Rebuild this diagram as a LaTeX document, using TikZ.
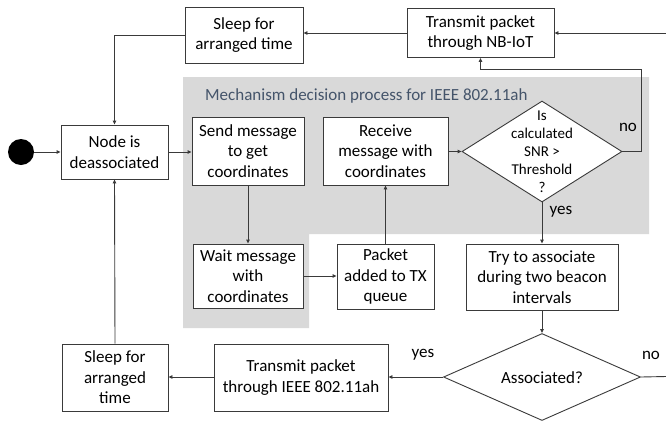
\documentclass[tikz,border=0pt]{standalone}
\usepackage{fontspec}
\setmainfont{Carlito}
\usetikzlibrary{arrows.meta,shapes.geometric}
\definecolor{lineC}{HTML}{3A3A3A}
\definecolor{grayBG}{HTML}{D9D9D9}
\definecolor{titleC}{HTML}{44546A}
\tikzset{
  box/.style={draw=lineC, line width=0.9pt, fill=white, align=center, inner sep=0pt, font=\fontsize{17}{20.5}\selectfont},
  dia/.style={draw=lineC, line width=0.9pt, fill=white, diamond, inner sep=0pt},
  lbl/.style={font=\fontsize{17}{20.5}\selectfont, align=center, inner sep=0pt},
  conn/.style={draw=lineC, line width=0.9pt, -{Triangle[length=4pt,width=3.5pt]}},
  plain/.style={draw=lineC, line width=0.9pt}
}
\begin{document}
\begin{tikzpicture}[x=1pt,y=-1pt]
\useasboundingbox (0,0) rectangle (666,424);
% gray region
\fill[grayBG] (183,77) -- (649,77) -- (649,234) -- (309,234) -- (309,328) -- (183,328) -- cycle;
\node[lbl, anchor=west, text=titleC] (title) at (205,96) {Mechanism decision process for IEEE 802.11ah};

% nodes
\node[box, minimum width=118, minimum height=56] (sleepTop) at (244,35) {Sleep for\\arranged time};
\node[box, minimum width=147, minimum height=49] (nbiot) at (480.5,33) {Transmit packet\\through NB-IoT};
\node[box, minimum width=107, minimum height=54] (deassoc) at (114.5,152) {Node is\\deassociated};
\node[box, minimum width=112, minimum height=68] (send) at (248,151) {Send message\\to get\\coordinates};
\node[box, minimum width=125, minimum height=68] (recv) at (385.5,151) {Receive\\message with\\coordinates};
\node[dia, minimum width=160, minimum height=101] (snr) at (542,151.5) {};
\node[lbl, font=\fontsize{15}{18}\selectfont] (snrtext) at (542,152) {Is\\calculated\\SNR >\\Threshold\\?};
\node[box, minimum width=110, minimum height=64] (wait) at (248,276) {Wait message\\with\\coordinates};
\node[box, minimum width=97, minimum height=65] (packet) at (385.5,276.5) {Packet\\added to TX\\queue};
\node[box, minimum width=152, minimum height=66] (try) at (542,277) {Try to associate\\during two beacon\\intervals};
\node[dia, minimum width=197, minimum height=87] (assoc) at (542,377) {};
\node[lbl] (assoctext) at (542,378) {Associated?};
\node[box, minimum width=174, minimum height=67] (txieee) at (301,377.5) {Transmit packet\\through IEEE 802.11ah};
\node[box, minimum width=106, minimum height=67] (sleepBot) at (115,377.5) {Sleep for\\arranged\\time};
\node[circle, fill=black, minimum size=26, inner sep=0] (start) at (21,152) {};

% free-end coordinates
\coordinate (rightIn) at (666,33);
\coordinate (rightOut) at (666,376.5);
\coordinate (noTurn) at (641,69);

% labels
\node[lbl] (noA) at (628,127) {no};
\node[lbl] (yesA) at (561,212) {yes};
\node[lbl] (yesB) at (423,355) {yes};
\node[lbl] (noB) at (651,355) {no};

% connectors
\draw[conn] (start) -- (deassoc);
\draw[conn] (deassoc) -- (send.west |- deassoc.east);
\draw[conn] (send) -- (wait);
\draw[conn] (wait.east) -- (packet.west |- wait.east);
\draw[conn] (packet) -- (recv);
\draw[conn] (recv.east |- snr.west) -- (snr.west);
\draw[conn] (snr.east) -| (noTurn) -| (nbiot.south);
\draw[conn] (snr.south) -- (try.north);
\draw[conn] (try.south) -- (assoc.north);
\draw[conn] (assoc.west) -- (txieee.east |- assoc.west);
\draw[conn] (txieee.west |- assoc.west) -- (sleepBot.east |- assoc.west);
\draw[conn] (sleepBot.north) -- (deassoc.south);
\draw[conn] (rightIn) -- (nbiot.east);
\draw[conn] (nbiot.west) -- (sleepTop.east |- nbiot.west);
\draw[conn] (sleepTop.west) -| (deassoc.north);
\draw[plain] (assoc.east) -- (rightOut);
\end{tikzpicture}
\end{document}
